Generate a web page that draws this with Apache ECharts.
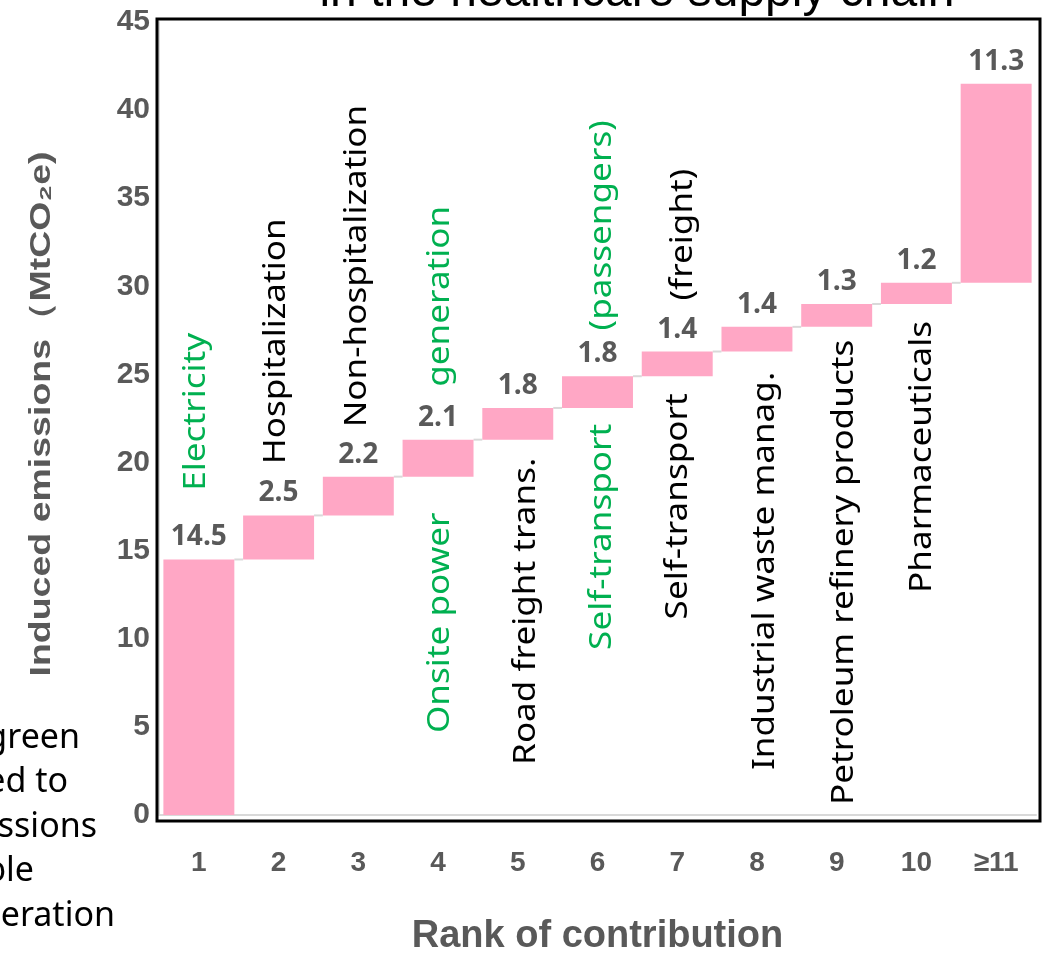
<!DOCTYPE html>
<html>
<head>
<meta charset="utf-8">
<script src="https://cdn.jsdelivr.net/npm/echarts@6/dist/echarts.min.js"></script>
<style>
  html, body { margin: 0; padding: 0; background: #ffffff; }
  #chart { width: 1051px; height: 953px; }
</style>
</head>
<body>
<div id="chart"></div>
<script>
// Rank categories along the x axis
const ranks = ['1', '2', '3', '4', '5', '6', '7', '8', '9', '10', '≥11'];
// Induced emissions per rank (MtCO2e)
const emissions = [14.5, 2.5, 2.2, 2.1, 1.8, 1.8, 1.4, 1.4, 1.3, 1.2, 11.3];
// Y axis ticks
const yTicks = { min: 0, max: 45, step: 5 };

// Sector names written beside the bars (green = power generation related)
const noteText = ['Electricity', 'Hospitalization', 'Non-hospitalization', 'Onsite power', 'generation',
  'Road freight trans.', 'Self-transport', '(passengers)', 'Self-transport', '(freight)',
  'Industrial waste manag.', 'Petroleum refinery products', 'Pharmaceuticals'];
const noteRank = [0, 1, 2, 3, 3, 4, 5, 5, 6, 6, 7, 8, 9];
const noteGreen = [true, false, false, true, true, false, true, true, false, false, false, false, false];

// Side caption lines (left margin, clipped by the page edge)
const captionLines = ['green', 'ed to', 'ssions', 'ble', 'eration'];
const titleText = 'in the healthcare supply chain';
const yAxisTitle = 'Induced emissions（MtCO₂e)';
const xAxisTitle = 'Rank of contribution';

// ---- layout of the rotated sector names: axis value at the text's lower end, x shift in px
const notePlacement = [
  [18.4, -2], [19.9, -2], [22.0, -1], [4.65, 2], [24.3, 2],
  [2.84, 9], [9.37, 5], [27.5, 5], [11.1, 1], [29.2, 6],
  [2.55, 8], [0.57, 8], [12.6, 6]
];
// right ends of the caption lines
const captionRight = [80, 68, 97, 34, 115];

// running totals: each bar floats on the sum of the previous ones
const bases = [];
let run = 0;
emissions.forEach(v => { bases.push(+run.toFixed(2)); run += v; });
const tops = emissions.map((v, i) => +(bases[i] + v).toFixed(2));

const GREY = '#595959';
const PINK = '#ffa7c5';
const GREEN = '#00b050';
const BAR_RATIO = 0.89;
const STRETCH = 1.17;   // rotated labels are drawn a little elongated

const chart = echarts.init(document.getElementById('chart'), null, { renderer: 'canvas' });

const option = {
  animation: false,
  backgroundColor: '#ffffff',
  grid: { left: 159, right: 15, top: 22, bottom: 138, containLabel: false, outerBoundsMode: 'none' },
  xAxis: {
    type: 'category',
    data: ranks,
    axisLine: { show: true, lineStyle: { color: '#d9d9d9', width: 2 } },
    axisTick: { show: false },
    axisLabel: {
      color: GREY, fontFamily: 'Liberation Sans', fontWeight: 'bold', fontSize: 28, margin: 34
    },
    name: xAxisTitle,
    nameLocation: 'middle',
    nameGap: 103,
    nameTextStyle: { color: GREY, fontFamily: 'Liberation Sans', fontWeight: 'bold', fontSize: 38 }
  },
  yAxis: {
    type: 'value',
    min: yTicks.min, max: yTicks.max, interval: yTicks.step,
    axisLine: { show: true, lineStyle: { color: '#d9d9d9', width: 2 } },
    axisTick: { show: false },
    splitLine: { show: false },
    axisLabel: {
      color: GREY, fontFamily: 'Liberation Sans', fontWeight: 'bold', fontSize: 30, margin: 9
    }
  },
  graphic: [
    {
      type: 'rect', silent: true, z: 100,
      shape: { x: 157, y: 19, width: 883, height: 802 },
      style: { fill: 'none', stroke: '#000000', lineWidth: 3 }
    },
    {
      type: 'text', silent: true,
      x: 637, y: -7,
      style: { text: titleText, fill: '#000000', font: '48px "Liberation Sans"', align: 'center', verticalAlign: 'middle' }
    },
    {
      type: 'text', silent: true,
      x: 42, y: 414, rotation: Math.PI / 2, scaleX: 1.25,
      style: { text: yAxisTitle, fill: GREY, font: 'bold 30px "Liberation Sans"', align: 'center', verticalAlign: 'middle' }
    }
  ].concat(captionLines.map((t, i) => ({
    type: 'text', silent: true,
    x: captionRight[i], y: 738 + i * 44.5,
    style: { text: t, fill: '#000000', font: '34px "Noto Sans"', align: 'right', verticalAlign: 'middle' }
  }))),
  series: [
    {
      name: 'base',
      type: 'bar',
      stack: 'fall',
      data: bases,
      barCategoryGap: '11%',
      itemStyle: { color: 'transparent' },
      silent: true
    },
    {
      name: 'emissions',
      type: 'bar',
      stack: 'fall',
      data: emissions,
      barCategoryGap: '11%',
      itemStyle: { color: PINK },
      label: {
        show: true, position: 'top', distance: 8,
        color: GREY, fontFamily: 'Open Sans', fontWeight: 'bold', fontSize: 28,
        formatter: p => emissions[p.dataIndex].toFixed(1)
      }
    },
    {
      // thin connectors from one bar's top to the next bar's base
      name: 'connectors',
      type: 'custom',
      silent: true,
      z: 1,
      data: tops.slice(0, -1).map((t, i) => [i, t]),
      renderItem: (params, api) => {
        const p = api.coord([api.value(0), api.value(1)]);
        const band = api.size([1, 0])[0];
        const half = band * BAR_RATIO / 2;
        return {
          type: 'line',
          shape: { x1: p[0] + half, y1: p[1], x2: p[0] + band - half, y2: p[1] },
          style: { stroke: '#d9d9d9', lineWidth: 2 }
        };
      }
    },
    {
      // rotated sector names
      name: 'sectors',
      type: 'custom',
      silent: true,
      z: 5,
      data: noteText.map((t, i) => [noteRank[i], notePlacement[i][0]]),
      renderItem: (params, api) => {
        const i = params.dataIndex;
        const p = api.coord([api.value(0), api.value(1)]);
        return {
          type: 'text',
          x: p[0] + notePlacement[i][1],
          y: p[1],
          rotation: Math.PI / 2,
          scaleX: STRETCH,
          style: {
            text: noteText[i],
            fill: noteGreen[i] ? GREEN : '#000000',
            font: '30px "Noto Sans"',
            align: 'left',
            verticalAlign: 'middle'
          }
        };
      }
    }
  ]
};

chart.setOption(option);
</script>
</body>
</html>
